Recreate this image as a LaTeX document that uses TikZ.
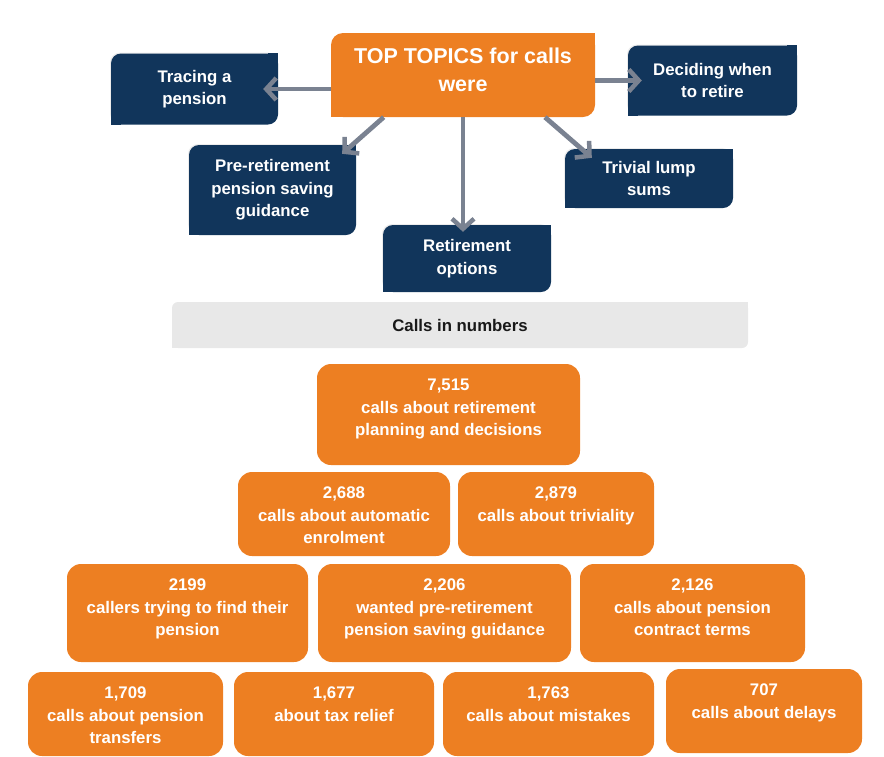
\documentclass[tikz,border=0pt]{standalone}
\usepackage{fontspec}
\setmainfont{Liberation Sans}
\usetikzlibrary{calc,arrows.meta,shadows}

\definecolor{topicorange}{HTML}{ED7F22}
\definecolor{topicnavy}{HTML}{11355B}
\definecolor{arrowgray}{HTML}{7A8291}
\definecolor{panelgray}{HTML}{E8E8E8}

\begin{document}
\begin{tikzpicture}[x=1pt,y=-1pt,
    txt/.style={font=\bfseries\fontsize{16.8}{22.5}\selectfont, text=white, align=center},
    topic/.style={txt, fill=topicnavy, rounded corners=10pt,
        drop shadow={shadow xshift=-1pt, shadow yshift=1pt, opacity=0.15}},
    numbox/.style 2 args={fill=topicorange, rounded corners=14pt, minimum width=#1, minimum height=#2, inner sep=0pt},
    numtext/.style={txt, anchor=north, inner sep=0pt, yshift=-15pt},
    arr/.style={draw=arrowgray, line width=4.8pt, -{Straight Barb[length=10pt,width=22pt,line width=4.5pt]}}]

    \useasboundingbox (0,0) rectangle (884,756);

    % Top topics
    \node[fill=topicorange, rounded corners=12pt, minimum width=264pt, minimum height=84pt,
        label={[numtext, font=\bfseries\fontsize{21.5}{28}\selectfont]north:{TOP TOPICS for calls\\were}}] (top) at (463,75) {};

    \node[topic, minimum width=167pt, minimum height=71pt] (trace) at (194.5,89) {Tracing a\\pension};
    \node[topic, minimum width=169pt, minimum height=70pt] (decide) at (712.5,80.5) {Deciding when\\to retire};
    \node[topic, minimum width=167pt, minimum height=90pt] (preret) at (272.5,190) {Pre-retirement\\pension saving\\guidance};
    \node[topic, minimum width=168pt, minimum height=59pt] (trivial) at (649,178.5) {Trivial lump\\sums};
    \node[topic, minimum width=168pt, minimum height=67pt] (retopt) at (467,258.5) {Retirement\\options};

    % Calls in numbers
    \node[fill=panelgray, rounded corners=6pt, minimum width=576pt, minimum height=46pt,
        font=\bfseries\fontsize{16.8}{20}\selectfont, text=black!90] (panel) at (460,325) {Calls in numbers};

    % Only two corners are round
    \foreach \b/\c/\r in {top/topicorange/12pt, trace/topicnavy/10pt, decide/topicnavy/10pt,
        preret/topicnavy/10pt, trivial/topicnavy/10pt, retopt/topicnavy/10pt, panel/panelgray/6pt} {
        \fill[\c] (\b.north east) rectangle ++(-\r,-\r);
        \fill[\c] (\b.south west) rectangle ++(\r,\r);
    }

    \node[numbox={263pt}{101pt}, label={[numtext]north:{7,515\\calls about retirement\\planning and decisions}}] (n7515) at (448.5,414.5) {};

    \node[numbox={212pt}{84pt}, label={[numtext]north:{2,688\\calls about automatic\\enrolment}}] (n2688) at (344,514) {};
    \node[numbox={196pt}{84pt}, label={[numtext]north:{2,879\\calls about triviality}}] (n2879) at (556,514) {};

    \node[numbox={241pt}{98pt}, label={[numtext]north:{2199\\callers trying to find their\\pension}}] (n2199) at (187.5,613) {};
    \node[numbox={253pt}{98pt}, label={[numtext]north:{2,206\\wanted pre-retirement\\pension saving guidance}}] (n2206) at (444.5,613) {};
    \node[numbox={225pt}{98pt}, label={[numtext]north:{2,126\\calls about pension\\contract terms}}] (n2126) at (692.5,613) {};

    \node[numbox={195pt}{84pt}, label={[numtext]north:{1,709\\calls about pension\\transfers}}] (n1709) at (125.5,714) {};
    \node[numbox={200pt}{84pt}, label={[numtext]north:{1,677\\about tax relief}}] (n1677) at (334,714) {};
    \node[numbox={211pt}{84pt}, label={[numtext]north:{1,763\\calls about mistakes}}] (n1763) at (548.5,714) {};
    \node[numbox={196pt}{84pt}, label={[numtext]north:{707\\calls about delays}}] (n707) at (764,711) {};

    % Arrows from the top box
    \draw[arr, shorten >=-15pt] (top.west |- trace.east) -- (trace.east);
    \draw[arr, shorten >=-14pt] (top.east |- decide.west) -- (decide.west);
    \draw[arr, shorten >=-7pt] (top.south) -- (top.south |- retopt.north);
    \draw[arr] ($(top.south west)!0.2!(top.south east)$) -- ([xshift=-14pt,yshift=-9pt]preret.north east);
    \draw[arr] ($(top.south west)!0.81!(top.south east)$) -- ([xshift=27pt,yshift=-9pt]trivial.north west);
\end{tikzpicture}
\end{document}
